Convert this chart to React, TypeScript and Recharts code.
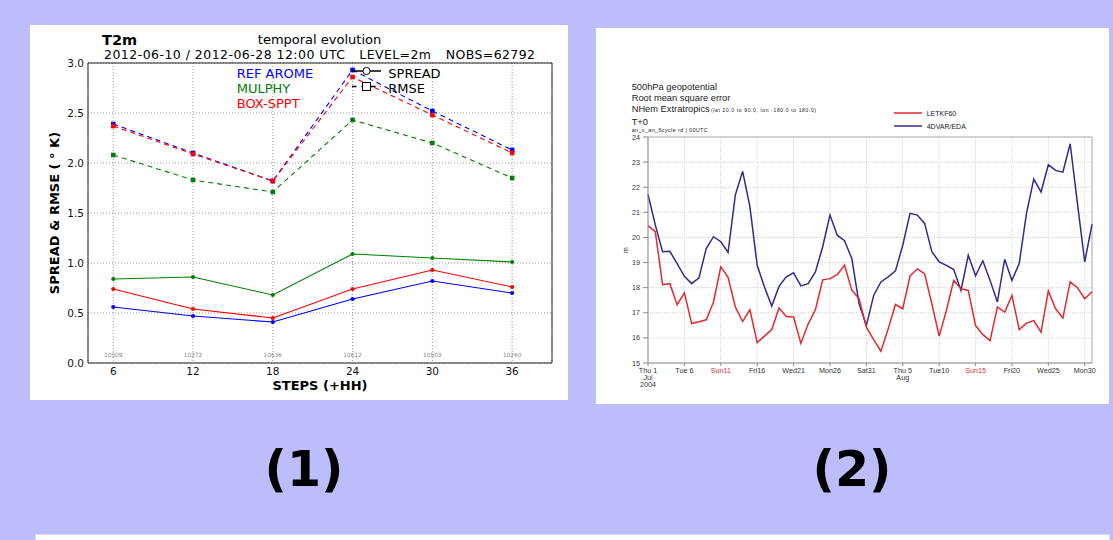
import React from 'react';
import {
  LineChart, Line, XAxis, YAxis, CartesianGrid, ReferenceLine, ReferenceDot,
} from 'recharts';

// ---- panel (1): T2m spread / rmse by forecast step ----
const STEPS = [6, 12, 18, 24, 30, 36];
const NOBS = ['10509', '10272', '10636', '10612', '10503', '10260'];
const RMSE_REF = [2.39, 2.10, 1.82, 2.93, 2.52, 2.13];
const RMSE_MULPHY = [2.08, 1.83, 1.71, 2.43, 2.20, 1.85];
const RMSE_BOX = [2.37, 2.09, 1.82, 2.86, 2.48, 2.10];
const SPREAD_REF = [0.56, 0.47, 0.41, 0.64, 0.82, 0.70];
const SPREAD_MULPHY = [0.84, 0.86, 0.68, 1.09, 1.05, 1.01];
const SPREAD_BOX = [0.74, 0.54, 0.45, 0.74, 0.93, 0.76];
const Y1_TICKS = [0, 0.5, 1, 1.5, 2, 2.5, 3];

// ---- panel (2): 500hPa geopotential rmse, daily Jul 1 - Aug 31 2004 ----
const DAY_TICKS = [0, 5, 10, 15, 20, 25, 30, 35, 40, 45, 50, 55, 60];
const DAY_LABELS = [
  'Thu 1\nJul\n2004', 'Tue 6', 'Sun11', 'Fri16', 'Wed21', 'Mon26', 'Sat31',
  'Thu 5\nAug', 'Tue10', 'Sun15', 'Fri20', 'Wed25', 'Mon30',
];
const LETKF60 = [
  20.47, 20.23, 18.12, 18.16, 17.32, 17.79, 16.57, 16.64, 16.72, 17.43,
  18.83, 18.41, 17.23, 16.65, 17.12, 15.81, 16.07, 16.33, 17.19, 16.85,
  16.83, 15.78, 16.55, 17.12, 18.31, 18.36, 18.52, 18.9, 17.9, 17.56,
  16.43, 15.93, 15.47, 16.36, 17.33, 17.16, 18.47, 18.75, 18.56, 17.36,
  16.07, 17.09, 18.29, 17.96, 17.89, 16.49, 16.13, 15.89, 17.23, 17.03,
  17.69, 16.33, 16.59, 16.69, 16.23, 17.87, 17.16, 16.79, 18.23, 18.0,
  17.56, 17.84,
];
const FDVAR_EDA = [
  21.72, 20.5, 19.43, 19.45, 18.96, 18.45, 18.16, 18.39, 19.56, 20.03,
  19.83, 19.4, 21.69, 22.63, 21.23, 18.89, 18.03, 17.27, 18.05, 18.43,
  18.59, 18.07, 18.16, 18.63, 19.63, 20.89, 20.09, 19.87, 19.16, 17.36,
  16.49, 17.69, 18.23, 18.43, 18.67, 19.69, 20.96, 20.89, 20.56, 19.43,
  19.03, 18.89, 18.72, 17.89, 19.29, 18.47, 19.07, 18.29, 17.43, 19.13,
  18.29, 18.96, 20.96, 22.32, 21.81, 22.89, 22.67, 22.6, 23.73, 21.36,
  19.03, 20.52,
];
const Y2_TICKS = [15, 16, 17, 18, 19, 20, 21, 22, 23, 24];

const stepData = STEPS.map((step, i) => ({
  step,
  rmseRef: RMSE_REF[i],
  rmseMulphy: RMSE_MULPHY[i],
  rmseBox: RMSE_BOX[i],
  spreadRef: SPREAD_REF[i],
  spreadMulphy: SPREAD_MULPHY[i],
  spreadBox: SPREAD_BOX[i],
}));

const dayData = LETKF60.map((v, i) => ({ day: i, letkf: v, fdvar: FDVAR_EDA[i] }));

const BLUE = '#0000ff';
const GREEN = '#008000';
const RED = '#ff0000';
const DV = 'DejaVu Sans';
const LS = 'Liberation Sans';

const squareDot = (color: string) => (p: any) => (
  <rect key={`sq-${p.index}`} x={p.cx - 2.3} y={p.cy - 2.3} width={4.6} height={4.6} fill={color} />
);
const circleDot = (color: string) => (p: any) => (
  <circle key={`ci-${p.index}`} cx={p.cx} cy={p.cy} r={2.1} fill={color} />
);

const DayTick = (props: any) => {
  const { x, y, payload } = props;
  const idx = DAY_TICKS.indexOf(payload.value);
  const lines = (DAY_LABELS[idx] || '').split('\n');
  const color = lines[0].startsWith('Sun') ? '#d8343c' : '#333333';
  return (
    <g>
      {lines.map((l, k) => (
        <text key={k} x={x} y={y + 5.4 + k * 6.8} textAnchor="middle" fontSize={7.2}
          fontFamily={LS} fill={color} stroke="none">{l}</text>
      ))}
    </g>
  );
};

export default function App() {
  return (
    <div style={{ position: 'absolute', left: 0, top: 0, width: 1113, height: 540, background: '#bdbdfb', overflow: 'hidden' }}>
      {/* panel 1 */}
      <div style={{ position: 'absolute', left: 30, top: 25, width: 538, height: 375, background: '#fff' }}>
        <LineChart width={538} height={375} data={stepData} margin={{ top: 38, right: 16, bottom: 0, left: 0 }}>
          <CartesianGrid stroke="#999" strokeDasharray="1 2" />
          <XAxis
            dataKey="step" type="number" domain={[4.1, 39]} ticks={STEPS} allowDataOverflow
            height={37} tickLine={false} tickSize={4} tickMargin={1} stroke="#222"
            tick={{ fill: '#111', fontSize: 10.5, fontFamily: DV }}
          />
          <YAxis
            type="number" domain={[0, 3]} ticks={Y1_TICKS} width={58}
            tickLine={false} tickSize={4} tickMargin={0} stroke="#222"
            tickFormatter={(v: number) => v.toFixed(1)}
            tick={{ fill: '#111', fontSize: 10.5, fontFamily: DV }}
          />
          <ReferenceLine y={3} stroke="#222" />
          <ReferenceLine x={39} stroke="#222" />
          {STEPS.map((s, i) => (
            <ReferenceDot key={s} x={s} y={0.08} r={0} fill="none" stroke="none"
              label={{ value: NOBS[i], position: 'center', fontSize: 5.8, fill: '#888', fontFamily: DV }} />
          ))}
          <Line dataKey="rmseMulphy" stroke={GREEN} strokeWidth={1.1} strokeDasharray="5 4" dot={squareDot(GREEN)} isAnimationActive={false} />
          <Line dataKey="rmseRef" stroke={BLUE} strokeWidth={1.1} strokeDasharray="5 4" dot={squareDot(BLUE)} isAnimationActive={false} />
          <Line dataKey="rmseBox" stroke={RED} strokeWidth={1.1} strokeDasharray="5 4" dot={squareDot(RED)} isAnimationActive={false} />
          <Line dataKey="spreadMulphy" stroke={GREEN} strokeWidth={1.1} dot={circleDot(GREEN)} isAnimationActive={false} />
          <Line dataKey="spreadRef" stroke={BLUE} strokeWidth={1.1} dot={circleDot(BLUE)} isAnimationActive={false} />
          <Line dataKey="spreadBox" stroke={RED} strokeWidth={1.1} dot={circleDot(RED)} isAnimationActive={false} />
        </LineChart>
      </div>

      {/* panel 2 */}
      <div style={{ position: 'absolute', left: 596, top: 28, width: 513, height: 376, background: '#fff' }}>
        <LineChart width={513} height={376} data={dayData} margin={{ top: 109, right: 17, bottom: 0, left: 0 }}>
          <CartesianGrid stroke="#d4d4d4" strokeDasharray="1 1" />
          <XAxis
            dataKey="day" type="number" domain={[0, 61]} ticks={DAY_TICKS}
            height={41} tickSize={3} tickMargin={2} stroke="#8a8a8a" tick={<DayTick />}
          />
          <YAxis
            type="number" domain={[15, 24]} ticks={Y2_TICKS} width={52}
            tickSize={5} tickMargin={3} stroke="#8a8a8a"
            tick={{ fill: '#333', fontSize: 7.2, fontFamily: LS }}
          />
          <ReferenceLine y={24} stroke="#b0b0b0" />
          <ReferenceLine x={61} stroke="#b0b0b0" />
          <Line dataKey="fdvar" stroke="#2e2e88" strokeWidth={1.5} dot={false} isAnimationActive={false} />
          <Line dataKey="letkf" stroke="#dd2b30" strokeWidth={1.5} dot={false} isAnimationActive={false} />
        </LineChart>
      </div>

      {/* text overlay */}
      <svg width={1113} height={540} style={{ position: 'absolute', left: 0, top: 0, pointerEvents: 'none' }}>
        <g fontFamily={DV}>
          <text x={102} y={44.5} fontSize={14.5} fontWeight="bold" fill="#000">T2m</text>
          <text x={319.5} y={44} fontSize={13} textAnchor="middle" fill="#000">temporal evolution</text>
          <text x={104} y={58.5} fontSize={12.5} fill="#000" textLength={241}>2012-06-10 / 2012-06-28 12:00 UTC</text>
          <text x={359.3} y={58.5} fontSize={12.5} fill="#000" textLength={71.7}>LEVEL=2m</text>
          <text x={445.7} y={58.5} fontSize={12.5} fill="#000" textLength={89.3}>NOBS=62792</text>

          <text x={236.7} y={77.7} fontSize={13} fill={BLUE}>REF AROME</text>
          <text x={236.7} y={92.7} fontSize={13} fill={GREEN}>MULPHY</text>
          <text x={236.7} y={107.7} fontSize={13} fill={RED}>BOX-SPPT</text>

          <line x1={352} x2={381} y1={71} y2={71} stroke="#000" strokeWidth={1.5} />
          <circle cx={366.5} cy={71} r={3.6} fill="#fff" stroke="#000" strokeWidth={1} />
          <text x={388.3} y={78.3} fontSize={13} fill="#000">SPREAD</text>
          <line x1={352} x2={381} y1={86.5} y2={86.5} stroke="#000" strokeWidth={1.5} strokeDasharray="4.5 5" />
          <rect x={362.5} y={82.5} width={8} height={8} fill="#fff" stroke="#000" strokeWidth={1} />
          <text x={388.3} y={93.3} fontSize={13} fill="#000">RMSE</text>

          <text x={59} y={213} fontSize={13} fontWeight="bold" textAnchor="middle" fill="#000"
            transform="rotate(-90 59 213)">SPREAD &amp; RMSE ( ° K)</text>
          <text x={320} y={390} fontSize={13} fontWeight="bold" textAnchor="middle" fill="#000">STEPS (+HH)</text>

          <text x={304} y={486} fontSize={49} fontWeight="bold" textAnchor="middle" fill="#000">(1)</text>
          <text x={852} y={486} fontSize={49} fontWeight="bold" textAnchor="middle" fill="#000">(2)</text>
        </g>
        <g fontFamily={LS} fill="#222">
          <text x={631.7} y={90.3} fontSize={9.3}>500hPa geopotential</text>
          <text x={631.7} y={101.3} fontSize={9.3}>Root mean square error</text>
          <text x={631.7} y={112} fontSize={9.3}>NHem Extratropics</text>
          <text x={711} y={111.5} fontSize={5} textLength={105}>(lat  20.0 to 90.0, lon  -180.0 to  180.0)</text>
          <text x={631.7} y={124.7} fontSize={9.3}>T+0</text>
          <text x={631.7} y={132.3} fontSize={5.4} textLength={76}>an_x_an_6cycle rd | 00UTC</text>
          <text x={627.5} y={250} fontSize={7} textAnchor="middle" transform="rotate(-90 627.5 250)">m</text>

          <line x1={894} x2={922} y1={113} y2={113} stroke="#dd2b30" strokeWidth={1.5} />
          <text x={926.7} y={115.5} fontSize={7}>LETKF60</text>
          <line x1={894} x2={922} y1={126} y2={126} stroke="#2e2e88" strokeWidth={1.5} />
          <text x={926.7} y={128.7} fontSize={7}>4DVAR/EDA</text>
        </g>
      </svg>

      <div style={{ position: 'absolute', left: 35, top: 534, width: 1073, height: 20, background: '#fff', border: '1px solid #dcdcfc' }} />
    </div>
  );
}
